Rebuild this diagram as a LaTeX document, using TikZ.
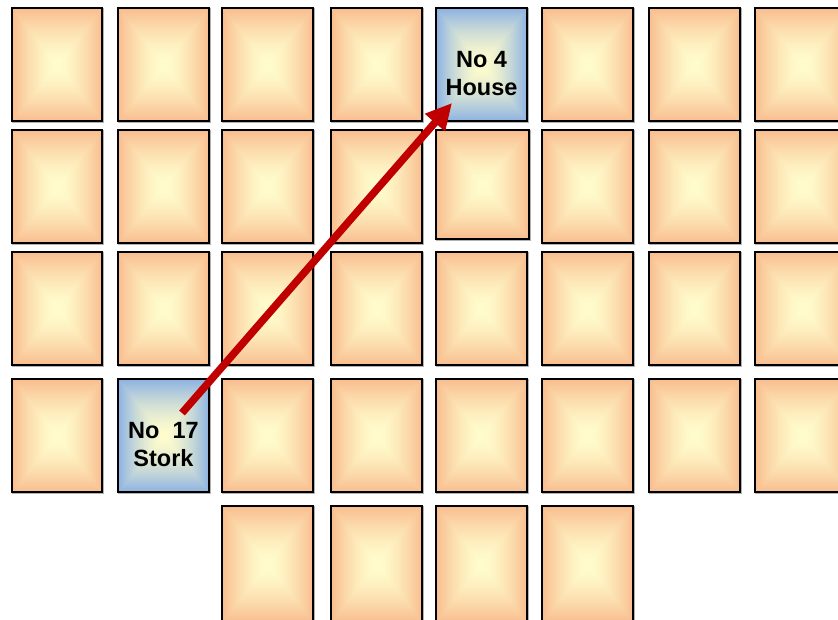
\documentclass[tikz,border=0pt]{standalone}
\usepackage{fontspec}
\setmainfont{Liberation Sans}
\usetikzlibrary{arrows.meta}
\definecolor{arrowred}{HTML}{C00000}
\pgfdeclarefunctionalshading{tileorange}{\pgfpointorigin}{\pgfpoint{100bp}{100bp}}{}{
50 sub abs exch 50 sub abs 2 copy sub abs add add 50 div
dup 1 sub abs neg 1 add add 2 div
dup sqrt mul
dup dup
0.24 mul 0.80 exch sub
exch 0.25 mul 0.99 exch sub
exch
3 -1 roll
0.025 mul 1 exch sub
3 1 roll
}
\pgfdeclarefunctionalshading{tileblue}{\pgfpointorigin}{\pgfpoint{100bp}{100bp}}{}{
50 sub abs exch 50 sub abs 2 copy sub abs add add 50 div
dup 1 sub abs neg 1 add add 2 div
dup sqrt mul
dup dup
-0.09 mul 0.80 exch sub
exch 0.29 mul 0.99 exch sub
exch
3 -1 roll
0.45 mul 1 exch sub
3 1 roll
}
\tikzset{
  tile/.style={rectangle, draw=black, line width=1.3pt, shading=tileorange,
    minimum width=91pt, minimum height=113pt, inner sep=0pt, outer sep=0pt,
    preaction={draw=black!30, line width=1.3pt, transform canvas={shift={(1pt,-1pt)}}}},
  bluetile/.style={tile, shading=tileblue},
  lbl/.style={font=\bfseries\fontsize{23.5}{28}\selectfont, align=center, inner sep=0pt},
  link/.style={draw=arrowred, line width=7.5pt, -{Triangle[length=26pt,width=25pt]}}
}
\begin{document}
\begin{tikzpicture}[x=1pt,y=-1pt]
\useasboundingbox (0,0) rectangle (838,619);
% row 1
\node[tile, minimum width=90pt] (r1c1) at (57,64.5) {};
\node[tile] (r1c2) at (163.5,64.5) {};
\node[tile] (r1c3) at (267.5,64.5) {};
\node[tile] (r1c4) at (376.5,64.5) {};
\node[bluetile] (house) at (481.5,64.5) {};
\node[tile] (r1c6) at (587.5,64.5) {};
\node[tile] (r1c7) at (694.5,64.5) {};
\node[tile, minimum width=95pt] (r1c8) at (802.5,64.5) {};
% row 2
\node[tile, minimum width=90pt] (r2c1) at (57,186.5) {};
\node[tile] (r2c2) at (163.5,186.5) {};
\node[tile] (r2c3) at (267.5,186.5) {};
\node[tile] (r2c4) at (376.5,186.5) {};
\node[tile, minimum width=93pt, minimum height=109pt] (r2c5) at (482.5,184.5) {};
\node[tile] (r2c6) at (587.5,186.5) {};
\node[tile] (r2c7) at (694.5,186.5) {};
\node[tile, minimum width=95pt] (r2c8) at (802.5,186.5) {};
% row 3
\node[tile, minimum width=90pt] (r3c1) at (57,308.5) {};
\node[tile] (r3c2) at (163.5,308.5) {};
\node[tile] (r3c3) at (267.5,308.5) {};
\node[tile] (r3c4) at (376.5,308.5) {};
\node[tile] (r3c5) at (481.5,308.5) {};
\node[tile] (r3c6) at (587.5,308.5) {};
\node[tile] (r3c7) at (694.5,308.5) {};
\node[tile, minimum width=95pt] (r3c8) at (802.5,308.5) {};
% row 4
\node[tile, minimum width=90pt] (r4c1) at (57,435.5) {};
\node[bluetile] (stork) at (163.5,435.5) {};
\node[tile] (r4c3) at (267.5,435.5) {};
\node[tile] (r4c4) at (376.5,435.5) {};
\node[tile] (r4c5) at (481.5,435.5) {};
\node[tile] (r4c6) at (587.5,435.5) {};
\node[tile] (r4c7) at (694.5,435.5) {};
\node[tile, minimum width=95pt] (r4c8) at (802.5,435.5) {};
% row 5
\node[tile, minimum height=116pt] (r5c3) at (267.5,564) {};
\node[tile, minimum height=116pt] (r5c4) at (376.5,564) {};
\node[tile, minimum height=116pt] (r5c5) at (481.5,564) {};
\node[tile, minimum height=116pt] (r5c6) at (587.5,564) {};
% labels
\node[lbl] (houselbl) at (481.5,74) {No 4\\House};
\node[lbl] (storklbl) at (163.5,445) {No\ \ 17\\Stork};
% arrow
\coordinate (astart) at (182,413);
\coordinate (aend) at (452,103);
\draw[link] (astart) -- (aend);
\end{tikzpicture}
\end{document}
